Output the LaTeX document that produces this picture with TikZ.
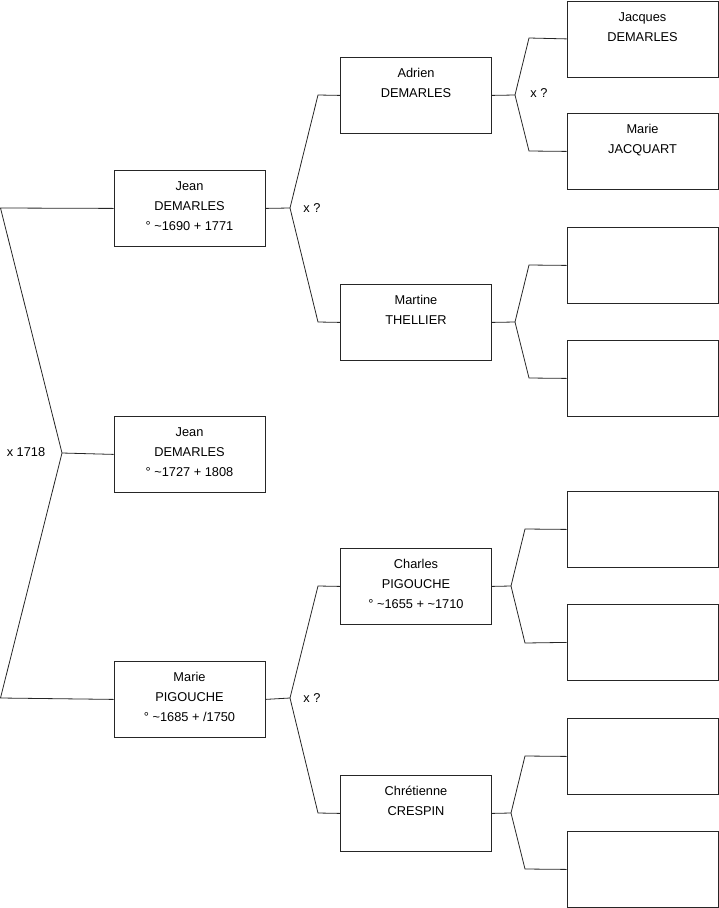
\documentclass[tikz,border=0pt]{standalone}
\usepackage{fontspec}
\setmainfont{Liberation Sans}
\usepackage{tikz}

\newcommand{\pers}[1]{\parbox[t]{144pt}{\centering #1}}

\tikzset{
  box/.style={draw=black!85, line width=0.8pt, minimum width=151pt, inner sep=0pt,
    text height=20.5pt, text depth=55.5pt, font=\fontsize{12.8}{20}\selectfont},
  link/.style={draw=black!85, line width=0.8pt},
  mar/.style={font=\fontsize{12.8}{20}\selectfont, inner sep=0pt}
}

\begin{document}
\begin{tikzpicture}[x=1pt, y=-1pt]
      \useasboundingbox (0,0) rectangle (719,908);
      % generation 1
      \node [box] (jean) at (189.5,170) [anchor=north] {\pers{Jean\\DEMARLES\\° \textasciitilde1690 + 1771}};
      \node [box] (jeanfils) at (189.5,416) [anchor=north] {\pers{Jean\\DEMARLES\\° \textasciitilde1727 + 1808}};
      \node [box] (marie) at (189.5,661) [anchor=north] {\pers{Marie\\PIGOUCHE\\° \textasciitilde1685 + /1750}};
      % generation 2
      \node [box] (adrien) at (416,57) [anchor=north] {\pers{Adrien\\DEMARLES}};
      \node [box] (martine) at (416,284) [anchor=north] {\pers{Martine\\THELLIER}};
      \node [box] (charles) at (416,548) [anchor=north] {\pers{Charles\\PIGOUCHE\\° \textasciitilde1655 + \textasciitilde1710}};
      \node [box] (chretienne) at (416,775) [anchor=north] {\pers{Chrétienne\\CRESPIN}};
      % generation 3
      \node [box] (jacques) at (642.5,0.5) [anchor=north] {\pers{Jacques\\DEMARLES}};
      \node [box] (jacquart) at (642.5,113) [anchor=north] {\pers{Marie\\JACQUART}};
      \node [box] (vide1) at (642.5,227) [anchor=north] {\pers{}};
      \node [box] (vide2) at (642.5,340) [anchor=north] {\pers{}};
      \node [box] (vide3) at (642.5,491) [anchor=north] {\pers{}};
      \node [box] (vide4) at (642.5,604) [anchor=north] {\pers{}};
      \node [box] (vide5) at (642.5,718) [anchor=north] {\pers{}};
      \node [box] (vide6) at (642.5,831) [anchor=north] {\pers{}};
      % left bracket
      \coordinate (lt) at (0.5,208);
      \coordinate (lj) at (62,453);
      \coordinate (lb) at (0.5,698);
      \draw [link] (jean.west) to (lt) to (lj) to (lb) to (marie.west);
      \draw [link] (lj) to (jeanfils.west);
      \node [mar] (m1) at (26,452) {x 1718};
      % middle brackets
      \coordinate (ja) at (290,208);
      \coordinate (jb) at (318,95);
      \coordinate (jc) at (318,322);
      \draw [link] (jean.east) to (ja) to (jb) to (adrien.west);
      \draw [link] (ja) to (jc) to (martine.west);
      \node [mar] (m2) at (312,208) {x ?};
      \coordinate (ma) at (290,698);
      \coordinate (mb) at (318,586);
      \coordinate (mc) at (318,813);
      \draw [link] (marie.east) to (ma) to (mb) to (charles.west);
      \draw [link] (ma) to (mc) to (chretienne.west);
      \node [mar] (m3) at (312,698) {x ?};
      % right brackets
      \coordinate (aa) at (515,95);
      \coordinate (ab) at (529,38);
      \coordinate (ac) at (529,151);
      \draw [link] (adrien.east) to (aa) to (ab) to (jacques.west);
      \draw [link] (aa) to (ac) to (jacquart.west);
      \node [mar] (m4) at (539,93) {x ?};
      \coordinate (ta) at (515,322);
      \coordinate (tb) at (529,265);
      \coordinate (tc) at (529,378);
      \draw [link] (martine.east) to (ta) to (tb) to (vide1.west);
      \draw [link] (ta) to (tc) to (vide2.west);
      \coordinate (ca) at (511,586);
      \coordinate (cb) at (525,529);
      \coordinate (cc) at (525,643);
      \draw [link] (charles.east) to (ca) to (cb) to (vide3.west);
      \draw [link] (ca) to (cc) to (vide4.west);
      \coordinate (ra) at (511,813);
      \coordinate (rb) at (525,756);
      \coordinate (rc) at (525,869);
      \draw [link] (chretienne.east) to (ra) to (rb) to (vide5.west);
      \draw [link] (ra) to (rc) to (vide6.west);
    \end{tikzpicture}
\end{document}
